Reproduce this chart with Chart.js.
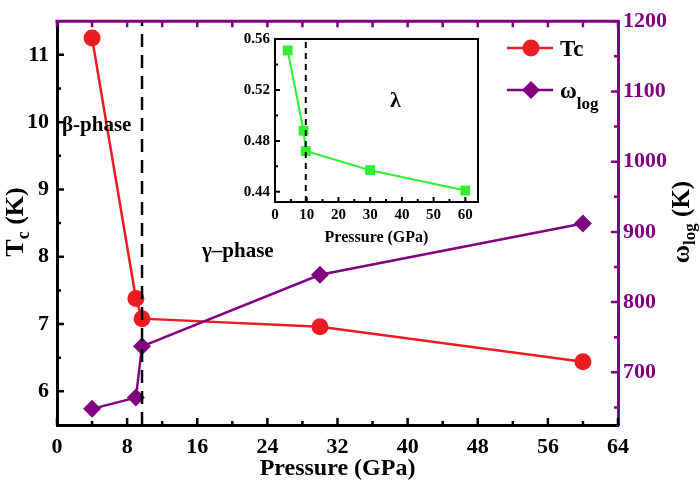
<!DOCTYPE html>
<html>
<head>
<meta charset="utf-8">
<script src="https://cdn.jsdelivr.net/npm/chart.js@4.4.0/dist/chart.umd.min.js"></script>
<style>
    body { margin: 0; background: #fff; }
    #wrap { position: relative; width: 700px; height: 487px; }
    #mainChart { position: absolute; left: 0; top: 0; }
    #insetChart { position: absolute; left: 225px; top: 25px; }
</style>
</head>
<body>
<div id="wrap">
    <canvas id="mainChart" width="700" height="487"></canvas>
    <canvas id="insetChart" width="265" height="225"></canvas>
</div>
<script>
// data
const pressure = [4, 9, 9.7, 30, 60];
const tcValues = [11.25, 7.38, 7.08, 6.96, 6.44];
const wlogValues = [648, 664, 737, 839, 912];
const lambdaValues = [0.551, 0.488, 0.472, 0.457, 0.441];
const phaseBoundary = 9.7;

// ticks
const pressureTicks = [0, 8, 16, 24, 32, 40, 48, 56, 64];
const pressureMinor = [4, 12, 20, 28, 36, 44, 52, 60];
const tcTicks = [6, 7, 8, 9, 10, 11];
const tcMinor = [6.5, 7.5, 8.5, 9.5, 10.5];
const wlogTicks = [700, 800, 900, 1000, 1100, 1200];
const wlogMinor = [650, 750, 850, 950, 1050, 1150];
const insetXTicks = [0, 10, 20, 30, 40, 50, 60];
const insetXMinor = [5, 15, 25, 35, 45, 55];
const lambdaTicks = [0.44, 0.48, 0.52, 0.56];
const lambdaMinor = [0.46, 0.50, 0.54];

const RED = '#ec1c24';
const PURPLE = '#800080';
const GREEN = '#33ee33';
const SERIF = "'Liberation Serif', 'Times New Roman', serif";

function pts(xs, ys) { return xs.map((x, i) => ({ x: x, y: ys[i] })); }

function setTicks(values) {
    return function(scale) { scale.ticks = values.map(v => ({ value: v })); };
}

function tickMarks(ctx, chart, scale, values, len, side, color, width) {
    const a = chart.chartArea;
    ctx.save();
    ctx.strokeStyle = color;
    ctx.lineWidth = width || 2.5;
    ctx.beginPath();
    values.forEach(v => {
        const p = scale.getPixelForValue(v);
        if (side === 'bottom') { ctx.moveTo(p, a.bottom); ctx.lineTo(p, a.bottom - len); }
        if (side === 'top') { ctx.moveTo(p, a.top); ctx.lineTo(p, a.top + len); }
        if (side === 'left') { ctx.moveTo(a.left, p); ctx.lineTo(a.left + len, p); }
        if (side === 'right') { ctx.moveTo(a.right, p); ctx.lineTo(a.right - len, p); }
    });
    ctx.stroke();
    ctx.restore();
}

// text made of pieces (for subscripts)
function partsWidth(ctx, parts) {
    let w = 0;
    parts.forEach(p => { ctx.font = p.font; w += ctx.measureText(p.text).width; });
    return w;
}
function drawParts(ctx, x, y, parts) {
    parts.forEach(p => {
        ctx.font = p.font;
        ctx.fillText(p.text, x, y + (p.dy || 0));
        x += ctx.measureText(p.text).width;
    });
}
function drawRotated(ctx, bx, cy, parts, color) {
    ctx.save();
    ctx.fillStyle = color;
    ctx.textBaseline = 'alphabetic';
    ctx.translate(bx, cy);
    ctx.rotate(-Math.PI / 2);
    const w = partsWidth(ctx, parts);
    drawParts(ctx, -w / 2, 0, parts);
    ctx.restore();
}

const mainDecor = {
    id: 'mainDecor',
    afterDraw(chart) {
        const ctx = chart.ctx;
        const a = chart.chartArea;
        const sx = chart.scales.x, sy = chart.scales.y, sy1 = chart.scales.y1;

        // purple frame on top
        ctx.save();
        ctx.strokeStyle = PURPLE;
        ctx.lineWidth = 3;
        ctx.beginPath();
        ctx.moveTo(a.left - 1.5, a.top);
        ctx.lineTo(a.right + 1.5, a.top);
        ctx.stroke();
        ctx.restore();

        tickMarks(ctx, chart, sx, pressureTicks, 7, 'bottom', '#000');
        tickMarks(ctx, chart, sx, pressureMinor, 4, 'bottom', '#000');
        tickMarks(ctx, chart, sx, pressureTicks.concat(pressureMinor), 6, 'top', PURPLE);
        tickMarks(ctx, chart, sy, tcTicks, 7, 'left', '#000');
        tickMarks(ctx, chart, sy, tcMinor, 4, 'left', '#000');
        tickMarks(ctx, chart, sy1, wlogTicks, 7, 'right', PURPLE);
        tickMarks(ctx, chart, sy1, wlogMinor, 4, 'right', PURPLE);

        // axis titles
        drawRotated(ctx, 23, 222, [
            { text: 'T', font: 'bold 26px ' + SERIF },
            { text: 'c', font: 'bold 18px ' + SERIF, dy: 6 },
            { text: ' (K)', font: 'bold 26px ' + SERIF }
        ], '#000');
        drawRotated(ctx, 689, 222, [
            { text: 'ω', font: 'bold 25px ' + SERIF },
            { text: 'log', font: 'bold 17px ' + SERIF, dy: 6 },
            { text: ' (K)', font: 'bold 25px ' + SERIF }
        ], '#000');

        // phase labels
        ctx.save();
        ctx.fillStyle = '#000';
        ctx.textBaseline = 'alphabetic';
        ctx.font = 'bold 21px ' + SERIF;
        ctx.fillText('β-phase', 62, 131);
        ctx.fillText('γ–phase', 202, 257);

        // legend
        ctx.lineWidth = 2.5;
        ctx.strokeStyle = RED;
        ctx.beginPath(); ctx.moveTo(507, 48); ctx.lineTo(553, 48); ctx.stroke();
        ctx.fillStyle = RED;
        ctx.beginPath(); ctx.arc(531, 48, 8.5, 0, Math.PI * 2); ctx.fill();
        ctx.strokeStyle = PURPLE;
        ctx.beginPath(); ctx.moveTo(507, 90); ctx.lineTo(553, 90); ctx.stroke();
        ctx.fillStyle = PURPLE;
        ctx.beginPath();
        ctx.moveTo(531, 81); ctx.lineTo(540, 90); ctx.lineTo(531, 99); ctx.lineTo(522, 90);
        ctx.closePath(); ctx.fill();
        ctx.fillStyle = '#000';
        drawParts(ctx, 560, 56, [{ text: 'Tc', font: 'bold 23px ' + SERIF }]);
        drawParts(ctx, 560, 98, [
            { text: 'ω', font: 'bold 23px ' + SERIF },
            { text: 'log', font: 'bold 17px ' + SERIF, dy: 11 }
        ]);
        ctx.restore();
    }
};

new Chart(document.getElementById('mainChart'), {
    type: 'line',
    data: {
        datasets: [
            {
                label: 'boundary',
                data: pts([phaseBoundary, phaseBoundary], [5.5, 11.5]),
                yAxisID: 'y',
                borderColor: '#000',
                borderWidth: 2.5,
                borderDash: [13, 8],
                pointRadius: 0,
                order: -1
            },
            {
                label: 'ωlog',
                data: pts(pressure, wlogValues),
                yAxisID: 'y1',
                borderColor: PURPLE,
                backgroundColor: PURPLE,
                borderWidth: 2.5,
                pointStyle: 'rectRot',
                pointRadius: 9,
                pointBorderWidth: 0,
                order: 0
            },
            {
                label: 'Tc',
                data: pts(pressure, tcValues),
                yAxisID: 'y',
                borderColor: RED,
                backgroundColor: RED,
                borderWidth: 2.5,
                pointStyle: 'circle',
                pointRadius: 8.5,
                pointBorderWidth: 0,
                order: 1
            }
        ]
    },
    options: {
        responsive: false,
        animation: false,
        layout: { padding: { top: 7, left: 0, right: 0, bottom: 0 } },
        plugins: { legend: { display: false }, tooltip: { enabled: false } },
        scales: {
            x: {
                type: 'linear',
                min: 0, max: 64,
                afterBuildTicks: setTicks(pressureTicks),
                afterFit: s => { s.height = 62; },
                grid: { display: false, drawTicks: false },
                border: { color: '#000', width: 3 },
                ticks: { color: '#000', padding: 9, font: { family: SERIF, size: 22, weight: 'bold' }, callback: v => v },
                title: { display: true, text: 'Pressure (GPa)', color: '#000', padding: { top: 0, bottom: 4 }, font: { family: SERIF, size: 24, weight: 'bold' } }
            },
            y: {
                type: 'linear',
                position: 'left',
                min: 5.5, max: 11.5,
                afterBuildTicks: setTicks(tcTicks),
                afterFit: s => { s.width = 57; },
                grid: { display: false, drawTicks: false },
                border: { color: '#000', width: 3 },
                ticks: { color: '#000', padding: 8, font: { family: SERIF, size: 22, weight: 'bold' }, callback: v => v }
            },
            y1: {
                type: 'linear',
                position: 'right',
                min: 625, max: 1200,
                afterBuildTicks: setTicks(wlogTicks),
                afterFit: s => { s.width = 82; },
                grid: { display: false, drawTicks: false },
                border: { color: PURPLE, width: 3 },
                ticks: { color: PURPLE, padding: 5, font: { family: SERIF, size: 22, weight: 'bold' }, callback: v => v }
            }
        }
    },
    plugins: [mainDecor]
});

const insetDecor = {
    id: 'insetDecor',
    afterDraw(chart) {
        const ctx = chart.ctx;
        const a = chart.chartArea;
        ctx.save();
        ctx.strokeStyle = '#000';
        ctx.lineWidth = 2;
        ctx.beginPath();
        ctx.moveTo(a.left - 1, a.top); ctx.lineTo(a.right, a.top); ctx.lineTo(a.right, a.bottom + 1);
        ctx.stroke();
        ctx.restore();
        tickMarks(ctx, chart, chart.scales.x, insetXTicks, 5, 'bottom', '#000', 2);
        tickMarks(ctx, chart, chart.scales.x, insetXMinor, 3, 'bottom', '#000', 2);
        tickMarks(ctx, chart, chart.scales.y, lambdaTicks, 5, 'left', '#000', 2);
        tickMarks(ctx, chart, chart.scales.y, lambdaMinor, 3, 'left', '#000', 2);
        ctx.save();
        ctx.fillStyle = '#000';
        ctx.font = 'bold 22px ' + SERIF;
        ctx.fillText('λ', 165, 82);
        ctx.restore();
    }
};

new Chart(document.getElementById('insetChart'), {
    type: 'line',
    data: {
        datasets: [
            {
                label: 'boundary',
                data: pts([phaseBoundary, phaseBoundary], [0.432, 0.56]),
                borderColor: '#000',
                borderWidth: 2,
                borderDash: [6, 5],
                pointRadius: 0,
                order: -1
            },
            {
                label: 'λ',
                data: pts(pressure, lambdaValues),
                borderColor: GREEN,
                backgroundColor: GREEN,
                borderWidth: 2,
                pointStyle: 'rect',
                pointRadius: 7,
                pointBorderWidth: 0,
                order: 0
            }
        ]
    },
    options: {
        responsive: false,
        animation: false,
        layout: { padding: { top: 7, left: 0, right: 12, bottom: 0 } },
        plugins: { legend: { display: false }, tooltip: { enabled: false } },
        scales: {
            x: {
                type: 'linear',
                min: 0, max: 64,
                afterBuildTicks: setTicks(insetXTicks),
                afterFit: s => { s.height = 48; },
                grid: { display: false, drawTicks: false },
                border: { color: '#000', width: 2 },
                ticks: { color: '#000', padding: 4, font: { family: SERIF, size: 15, weight: 'bold' }, callback: v => v },
                title: { display: true, text: 'Pressure (GPa)', color: '#000', padding: { top: 0, bottom: 3 }, font: { family: SERIF, size: 16, weight: 'bold' } }
            },
            y: {
                type: 'linear',
                min: 0.432, max: 0.56,
                afterBuildTicks: setTicks(lambdaTicks),
                afterFit: s => { s.width = 50; },
                grid: { display: false, drawTicks: false },
                border: { color: '#000', width: 2 },
                ticks: { color: '#000', padding: 5, font: { family: SERIF, size: 15, weight: 'bold' }, callback: v => v.toFixed(2) }
            }
        }
    },
    plugins: [insetDecor]
});
</script>
</body>
</html>
